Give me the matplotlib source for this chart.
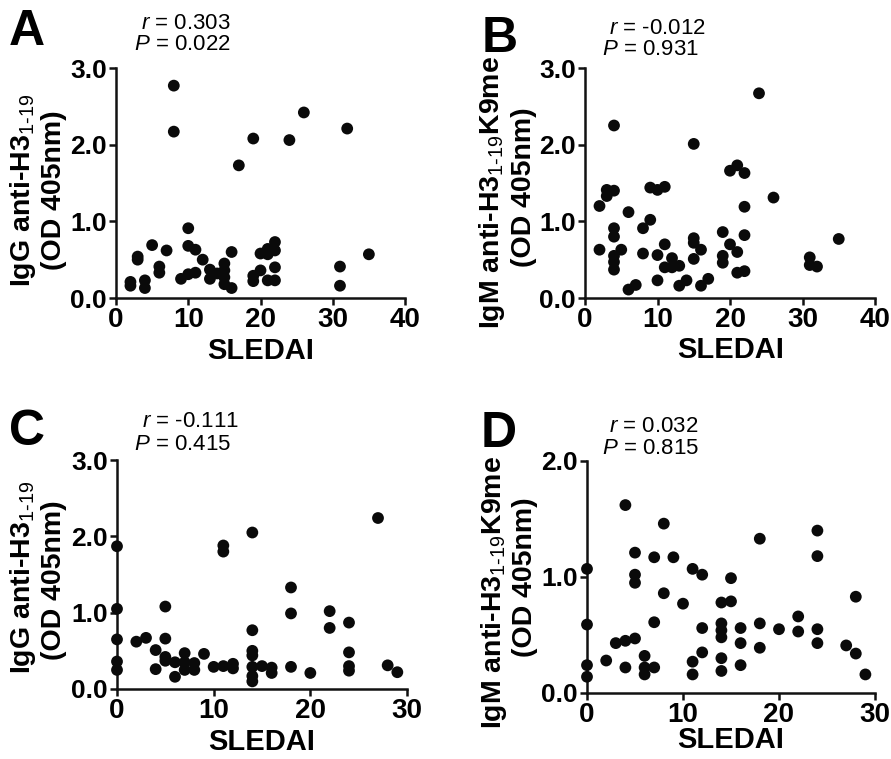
import matplotlib
matplotlib.use("Agg")
import matplotlib.pyplot as plt

plt.rcParams['font.family'] = ['Liberation Sans', 'DejaVu Sans']
plt.rcParams['mathtext.fontset'] = 'custom'
plt.rcParams['mathtext.rm'] = 'Liberation Sans'
plt.rcParams['mathtext.it'] = 'Liberation Sans:italic'
plt.rcParams['mathtext.bf'] = 'Liberation Sans:bold'

# ---------------- data ----------------
a_x = [2, 2, 3, 3, 4, 4, 5, 6, 6, 7, 8, 8, 9, 10, 10, 10, 11, 11, 12, 13, 13, 14,
       15, 15, 15, 15, 16, 16, 17, 19, 19, 19, 20, 20, 21, 21, 21, 22, 22, 22, 22,
       24, 26, 31, 31, 32, 35]
a_y = [0.21, 0.16, 0.54, 0.50, 0.23, 0.13, 0.69, 0.41, 0.33, 0.62, 2.77, 2.17, 0.25,
       0.91, 0.68, 0.31, 0.63, 0.33, 0.50, 0.37, 0.25, 0.32, 0.45, 0.36, 0.27, 0.18,
       0.60, 0.13, 1.73, 2.08, 0.29, 0.22, 0.58, 0.36, 0.64, 0.57, 0.23, 0.73, 0.62,
       0.40, 0.23, 2.06, 2.42, 0.41, 0.16, 2.21, 0.57]

b_x = [2, 2, 3, 3, 4, 4, 4, 4, 4, 4, 4, 5, 6, 6, 7, 8, 8, 9, 9, 10, 10, 10, 11, 11,
       11, 12, 12, 13, 13, 14, 15, 15, 15, 15, 16, 16, 17, 19, 19, 19, 20, 20, 21,
       21, 21, 22, 22, 22, 22, 24, 26, 31, 31, 32, 35]
b_y = [1.20, 0.63, 1.41, 1.33, 1.40, 2.25, 0.91, 0.80, 0.55, 0.47, 0.37, 0.63, 1.12,
       0.11, 0.17, 0.91, 0.58, 1.44, 1.02, 1.41, 0.56, 0.23, 1.45, 0.70, 0.40, 0.52,
       0.40, 0.42, 0.16, 0.23, 2.01, 0.78, 0.72, 0.51, 0.63, 0.16, 0.25, 0.86, 0.55,
       0.46, 1.66, 0.70, 1.73, 0.60, 0.33, 1.63, 1.19, 0.82, 0.35, 2.67, 1.31, 0.53,
       0.43, 0.41, 0.77]

c_x = [0, 0, 0, 0, 0, 2, 3, 4, 4, 5, 5, 5, 5, 6, 6, 7, 7, 7, 8, 8, 9, 10, 11, 11, 11,
       12, 12, 14, 14, 14, 14, 14, 14, 14, 15, 16, 16, 18, 18, 18, 20, 22, 22, 24, 24,
       24, 24, 27, 28, 29]
c_y = [1.87, 1.05, 0.65, 0.36, 0.25, 0.62, 0.67, 0.51, 0.26, 1.08, 0.66, 0.42, 0.37,
       0.35, 0.16, 0.47, 0.35, 0.25, 0.34, 0.25, 0.46, 0.29, 1.88, 1.80, 0.30, 0.33,
       0.27, 2.05, 0.77, 0.50, 0.44, 0.29, 0.17, 0.10, 0.30, 0.28, 0.21, 1.33, 0.99,
       0.29, 0.21, 1.02, 0.80, 0.87, 0.48, 0.30, 0.24, 2.24, 0.31, 0.22]

d_x = [0, 0, 0, 0, 2, 3, 4, 4, 4, 5, 5, 5, 5, 6, 6, 6, 7, 7, 7, 8, 8, 9, 10, 11, 11,
       11, 12, 12, 12, 14, 14, 14, 14, 14, 14, 15, 15, 16, 16, 16, 18, 18, 18, 20, 22,
       22, 24, 24, 24, 24, 27, 28, 28, 29]
d_y = [1.07, 0.59, 0.24, 0.14, 0.28, 0.43, 1.62, 0.45, 0.22, 1.21, 1.02, 0.95, 0.47,
       0.32, 0.22, 0.16, 1.17, 0.61, 0.22, 1.46, 0.86, 1.17, 0.77, 1.07, 0.27, 0.16,
       1.02, 0.56, 0.35, 0.78, 0.60, 0.54, 0.48, 0.30, 0.19, 0.99, 0.79, 0.56, 0.43,
       0.24, 1.33, 0.60, 0.39, 0.55, 0.66, 0.53, 1.40, 1.18, 0.55, 0.43, 0.41, 0.83,
       0.34, 0.16]

letters = ['A', 'B', 'C', 'D']
r_texts = ['0.303', '-0.012', '-0.111', '0.032']
p_texts = ['0.022', '0.931', '0.415', '0.815']
xticks_ab = [0, 10, 20, 30, 40]
xticks_cd = [0, 10, 20, 30]
yticks_abc = [0.0, 1.0, 2.0, 3.0]
yticks_d = [0.0, 1.0, 2.0]
ylab1 = [r'IgG anti-H3$_{\mathrm{1\text{-}19}}$',
         r'IgM anti-H3$_{\mathrm{1\text{-}19}}$K9me',
         r'IgG anti-H3$_{\mathrm{1\text{-}19}}$',
         r'IgM anti-H3$_{\mathrm{1\text{-}19}}$K9me']
ylab2 = '(OD 405nm)'
xlab = 'SLEDAI'

W, H = 891, 759
fig = plt.figure(figsize=(W / 100, H / 100), dpi=100)


def fx(px):
    return px / W


def fy(py):
    return 1 - py / H


# layout (pixels): left, right, top, bottom
rects = [(116, 405, 68, 298), (585, 875, 68, 298), (117, 407, 460, 689), (587, 875, 461, 693)]
datas = [(a_x, a_y), (b_x, b_y), (c_x, c_y), (d_x, d_y)]
xts = [xticks_ab, xticks_ab, xticks_cd, xticks_cd]
yts = [yticks_abc, yticks_abc, yticks_abc, yticks_d]
letter_pos = [(9, 45), (482, 52), (9, 445), (481, 447)]
r_pos = [(141, 29), (609, 34), (142, 427), (609, 432)]
p_pos = [(134, 50), (602, 55), (134, 450), (602, 454)]
ylab1_pos = [(30, 190), (499, 192), (30, 577), (501, 592)]
ylab2_pos = [(61, 190), (531, 187), (61, 580), (532, 577)]
xlab_pos = [(261, 359), (731, 358), (262, 750), (731, 748)]

for i in range(4):
    l, r, t, b = rects[i]
    ax = fig.add_axes([fx(l), fy(b), (r - l) / W, (b - t) / H])
    xs, ys = datas[i]
    ax.scatter(xs, ys, s=72, color='#0a0a0a', edgecolors='none', clip_on=False, zorder=5)
    ax.set_xlim(xts[i][0], xts[i][-1])
    ax.set_ylim(yts[i][0], yts[i][-1])
    ax.set_xticks(xts[i])
    ax.set_yticks(yts[i])
    ax.set_yticklabels(['%.1f' % v for v in yts[i]])
    for s in ['top', 'right']:
        ax.spines[s].set_visible(False)
    for s in ['left', 'bottom']:
        ax.spines[s].set_linewidth(1.8)
        ax.spines[s].set_color('#111111')
    ax.tick_params(axis='both', direction='out', length=5, width=1.8, color='#111111')
    ax.tick_params(axis='x', labelsize=20, pad=1.5)
    ax.tick_params(axis='y', labelsize=19, pad=1.5)
    for lab in ax.get_xticklabels() + ax.get_yticklabels():
        lab.set_fontweight('bold')

    fig.text(fx(letter_pos[i][0]), fy(letter_pos[i][1]), letters[i], fontsize=36,
             fontweight='bold', ha='left', va='baseline')
    fig.text(fx(r_pos[i][0]), fy(r_pos[i][1]), r'$\mathit{r}$ = ' + r_texts[i],
             fontsize=16, ha='left', va='baseline')
    fig.text(fx(p_pos[i][0]), fy(p_pos[i][1]), r'$\mathit{P}$ = ' + p_texts[i],
             fontsize=16, ha='left', va='baseline')
    fig.text(fx(ylab1_pos[i][0]), fy(ylab1_pos[i][1]), ylab1[i], fontsize=20.5,
             fontweight='bold', rotation=90, rotation_mode='anchor',
             ha='center', va='baseline')
    fig.text(fx(ylab2_pos[i][0]), fy(ylab2_pos[i][1]), ylab2, fontsize=20.5,
             fontweight='bold', rotation=90, rotation_mode='anchor',
             ha='center', va='baseline')
    fig.text(fx(xlab_pos[i][0]), fy(xlab_pos[i][1]), xlab, fontsize=21,
             fontweight='bold', ha='center', va='baseline')

fig.savefig('out.png', dpi=100)
